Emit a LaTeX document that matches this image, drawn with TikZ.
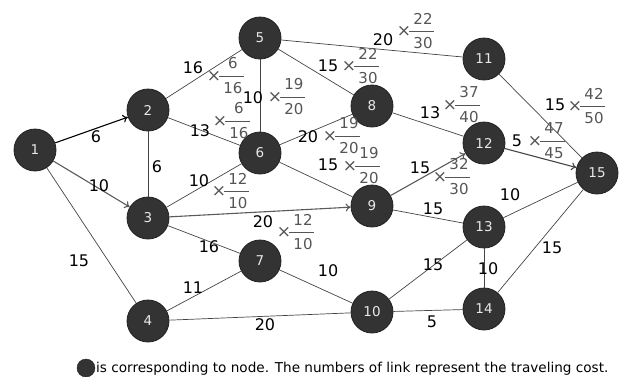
\documentclass[tikz,border=0pt]{standalone}
\usepackage{fontspec}
\setmainfont{DejaVu Sans}
\usetikzlibrary{arrows.meta}
\definecolor{nodefill}{HTML}{333333}
\definecolor{nodeedge}{HTML}{222222}
\definecolor{nodetext}{HTML}{E8E8E8}
\definecolor{edgecol}{HTML}{444444}
\definecolor{arrgray}{HTML}{5A5A5A}
\definecolor{fraccol}{HTML}{555555}
\newcommand\wfrac[5]{%
  \node[frx] (#1x) at (#2,#3) {×};
  \draw[fraccol,line width=1pt] (#2+5,#3) -- (#2+30,#3);
  \node[frn] (#1n) at (#2+19,#3-12.5) {#4};
  \node[frn] (#1d) at (#2+19,#3+12.5) {#5};}
\begin{document}
\begin{tikzpicture}[x=1pt,y=-1pt,
  nd/.style={circle,fill=nodefill,draw=nodeedge,line width=0.8pt,minimum size=42pt,inner sep=0pt,text=nodetext,font=\fontsize{13.5}{13.5}\selectfont},
  ed/.style={draw=edgecol,line width=0.7pt},
  ar/.style={line width=1.1pt,-{To[length=5pt,width=8pt]}},
  cost/.style={font=\fontsize{16}{16}\selectfont,inner sep=0pt},
  frn/.style={font=\fontsize{15}{15}\selectfont,text=fraccol,inner sep=0pt},
  frx/.style={font=\fontsize{17}{17}\selectfont,text=fraccol,inner sep=0pt},
]
\useasboundingbox (0,0) rectangle (621,376);
% nodes
\node[nd] (n1) at (35,150) {1};
\node[nd] (n2) at (148,110) {2};
\node[nd] (n3) at (148,218) {3};
\node[nd] (n4) at (148,321) {4};
\node[nd] (n5) at (260,38) {5};
\node[nd] (n6) at (260,153) {6};
\node[nd] (n7) at (260,261) {7};
\node[nd] (n8) at (372,106) {8};
\node[nd] (n9) at (372,206) {9};
\node[nd] (n10) at (372,312) {10};
\node[nd] (n11) at (484,59) {11};
\node[nd] (n12) at (484,143) {12};
\node[nd] (n13) at (484,227) {13};
\node[nd] (n14) at (484,309) {14};
\node[nd] (n15) at (597,173) {15};
% edges
\draw[ar,black] (n1) -- (n2);
\draw[ar,arrgray] (n1) -- (n3);
\draw[ed] (n1) -- (n4);
\draw[ed] (n2) -- (n3);
\draw[ed] (n2) -- (n5);
\draw[ed] (n2) -- (n6);
\draw[ed] (n5) -- (n6);
\draw[ed] (n5) -- (n11);
\draw[ed] (n5) -- (n8);
\draw[ed] (n6) -- (n8);
\draw[ed] (n6) -- (n9);
\draw[ed] (n3) -- (n6);
\draw[ar,arrgray] (n3) -- (n9);
\draw[ed] (n3) -- (n7);
\draw[ed] (n4) -- (n7);
\draw[ed] (n4) -- (n10);
\draw[ed] (n7) -- (n10);
\draw[ed] (n8) -- (n12);
\draw[ar,arrgray] (n9) -- (n12);
\draw[ed] (n9) -- (n13);
\draw[ed] (n11) -- (n15);
\draw[ar,edgecol] (n12) -- (n15);
\draw[ed] (n13) -- (n15);
\draw[ed] (n13) -- (n14);
\draw[ed] (n10) -- (n13);
\draw[ed] (n10) -- (n14);
\draw[ed] (n14) -- (n15);
% cost labels
\node[cost] (c12) at (96,137) {6};
\node[cost] (c13) at (99,186) {10};
\node[cost] (c14) at (79,261) {15};
\node[cost] (c23) at (157,167) {6};
\node[cost] (c25) at (193,68) {16};
\node[cost] (c26) at (200,131) {13};
\node[cost] (c56) at (253,98) {10};
\node[cost] (c511) at (383,40) {20};
\node[cost] (c58) at (328,66) {15};
\node[cost] (c68) at (308,137) {20};
\node[cost] (c69) at (328,165) {15};
\node[cost] (c36) at (199,181) {10};
\node[cost] (c39) at (263,222) {20};
\node[cost] (c37) at (209,247) {16};
\node[cost] (c47) at (193,288) {11};
\node[cost] (c410) at (265,325) {20};
\node[cost] (c710) at (328,271) {10};
\node[cost] (c812) at (430,113) {13};
\node[cost] (c912) at (420,168) {15};
\node[cost] (c913) at (433,209) {15};
\node[cost] (c1115) at (555,105) {15};
\node[cost] (c1215) at (517,141) {5};
\node[cost] (c1315) at (510,195) {10};
\node[cost] (c1013) at (433,265) {15};
\node[cost] (c1314) at (488,269) {10};
\node[cost] (c1415) at (552,248) {15};
\node[cost] (c1014) at (432,322) {5};
% ratio labels
\wfrac{f25}{214}{76}{6}{16}
\wfrac{f26}{220}{121}{6}{16}
\wfrac{f56}{275}{97}{19}{20}
\wfrac{f511}{404}{31}{22}{30}
\wfrac{f58}{349}{66}{22}{30}
\wfrac{f68}{330}{136}{19}{20}
\wfrac{f69}{350}{166}{19}{20}
\wfrac{f36}{219}{191}{12}{10}
\wfrac{f39}{284}{232}{12}{10}
\wfrac{f812}{450}{105}{37}{40}
\wfrac{f912}{440}{177}{32}{30}
\wfrac{f1115}{575}{106}{42}{50}
\wfrac{f1215}{535}{141}{47}{45}
% legend
\node[circle,fill=nodefill,draw=nodeedge,minimum size=18pt,inner sep=0pt] (leg) at (86,368) {};
\node[anchor=west,inner sep=0pt,font=\fontsize{13.6}{13.6}\selectfont] (legtext) at (96,369) {is corresponding to node. The numbers of link represent the traveling cost.};
\end{tikzpicture}
\end{document}
